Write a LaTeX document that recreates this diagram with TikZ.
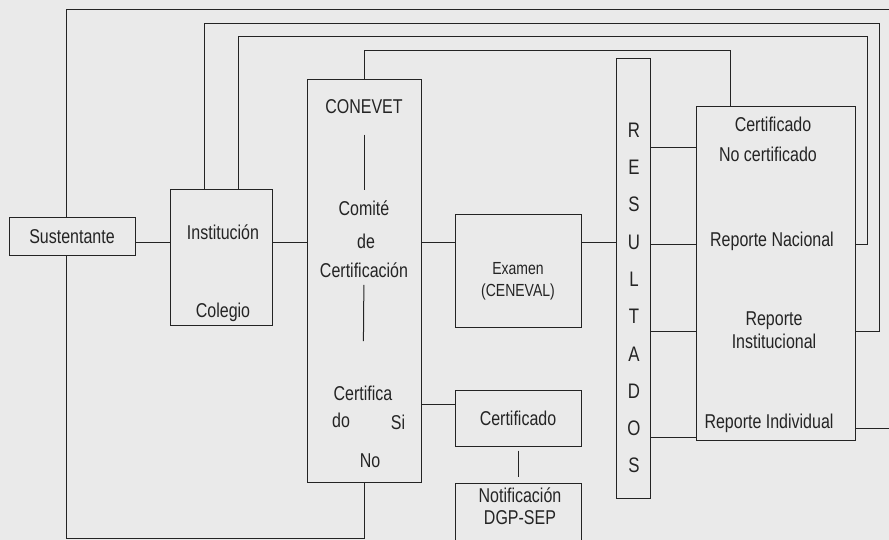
\documentclass[tikz,border=0pt]{standalone}
\usepackage{fontspec}
\setmainfont{Liberation Sans}[FakeStretch=0.8]
\definecolor{bgc}{HTML}{EAEAEA}
\definecolor{ink}{HTML}{242424}

\begin{document}
\begin{tikzpicture}[
    x=1pt, y=-1pt,
    every node/.style={font=\fontsize{20}{23}\selectfont, text=ink},
    box/.style={
        rectangle,
        draw=ink,
        line width=1pt,
        inner sep=0pt,
        align=center
    },
    lbl/.style={align=center},
    link/.style={draw=ink, line width=1pt}
]
\fill[bgc] (0,0) rectangle (889,540);
\useasboundingbox (0,0) rectangle (889,540);

\coordinate (axis) at (0,243);
\coordinate (rowA) at (0,148);
\coordinate (rowN) at (0,245);
\coordinate (rowI) at (0,331);
\coordinate (rowD) at (0,437);
\coordinate (rowC) at (0,404);
\coordinate (bot) at (0,538);
\coordinate (edgeT) at (889,10);
\coordinate (edgeD) at (889,428);

\node[box, minimum width=126pt, minimum height=38pt] (sust) at (72,237) {Sustentante};

\node[box, minimum width=102pt, minimum height=135pt] (inst) at (221,257.5) {};
\node[lbl] (tinst) at (223,232) {Institución};
\node[lbl] (tcoleg) at (223,312) {Colegio};

\node[box, minimum width=114pt, minimum height=402pt] (conv) at (364,281) {};
\node[lbl] (tconevet) at (364,107) {CONEVET};
\node[lbl] (tcomite) at (364,208) {Comité};
\node[lbl] (tde) at (366,241) {de};
\node[lbl] (tcertif) at (364,270) {Certificación};
\node[lbl] (tcertfa) at (363,393) {Certifica};
\node[lbl] (tdo) at (341,420) {do};
\node[lbl] (tsi) at (398,422) {Si};
\node[lbl] (tno) at (370,461) {No};

\node[box, minimum width=126pt, minimum height=112pt] (exam) at (518,271) {};
\node[lbl, font=\fontsize{17.5}{22}\selectfont] (texam) at (518,281) {Examen\\(CENEVAL)};

\node[box, minimum width=126pt, minimum height=56pt] (cert) at (518,418) {Certificado};

\node[box, minimum width=126pt, minimum height=60pt] (notif) at (518,513) {};
\node[lbl, font=\fontsize{20}{22}\selectfont] (tnotif) at (520,506) {Notificación\\DGP-SEP};

\node[box, minimum width=34pt, minimum height=439pt] (res) at (633,278.5) {};
\node[lbl, font=\fontsize{21}{37.3}\selectfont] (tres) at (634,298) {R\\E\\S\\U\\L\\T\\A\\D\\O\\S};

\node[box, minimum width=159pt, minimum height=333pt] (rbox) at (775.5,273.5) {};
\node[lbl] (tcertr) at (773,124) {Certificado};
\node[lbl] (tnocert) at (768,154) {No certificado};
\node[lbl] (tnac) at (772,241) {Reporte Nacional};
\node[lbl] (trepinst) at (774,330) {Reporte\\Institucional};
\node[lbl] (tind) at (769,423) {Reporte Individual};

\draw[link] (sust.east |- axis) -- (inst.west |- axis);
\draw[link] (inst.east |- axis) -- (conv.west |- axis);
\draw[link] (conv.east |- axis) -- (exam.west |- axis);
\draw[link] (exam.east |- axis) -- (res.west |- axis);
\draw[link] (res.east |- rowN) -- (rbox.west |- rowN);
\draw[link] (res.east |- rowA) -- (rbox.west |- rowA);
\draw[link] (res.east |- rowI) -- (rbox.west |- rowI);
\draw[link] (res.east |- rowD) -- (rbox.west |- rowD);

\draw[link] (conv.east |- rowC) -- (cert.west |- rowC);
\draw[link, shorten <=4pt, shorten >=6pt] (cert.south) -- (notif.north);

\draw[link, shorten <=17pt, shorten >=7pt] (tconevet) -- (tcomite);
\draw[link, shorten <=4pt, shorten >=41pt] (tcertif) -- (tcertfa);

\draw[link] ([xshift=-6pt]sust.north) |- (edgeT);
\draw[link] ([xshift=-6pt]sust.south) |- (conv.south |- bot) -- (conv.south);
\draw[link] (rbox.east |- rowN) -| (867,37) -| ([xshift=17pt]inst.north);
\draw[link] (rbox.east |- rowI) -| (879,24) -| ([xshift=-17pt]inst.north);
\draw[link] (conv.north) |- (730,51) -- ([xshift=-45.5pt]rbox.north);
\draw[link] (rbox.east |- edgeD) -- (edgeD);

\end{tikzpicture}
\end{document}
